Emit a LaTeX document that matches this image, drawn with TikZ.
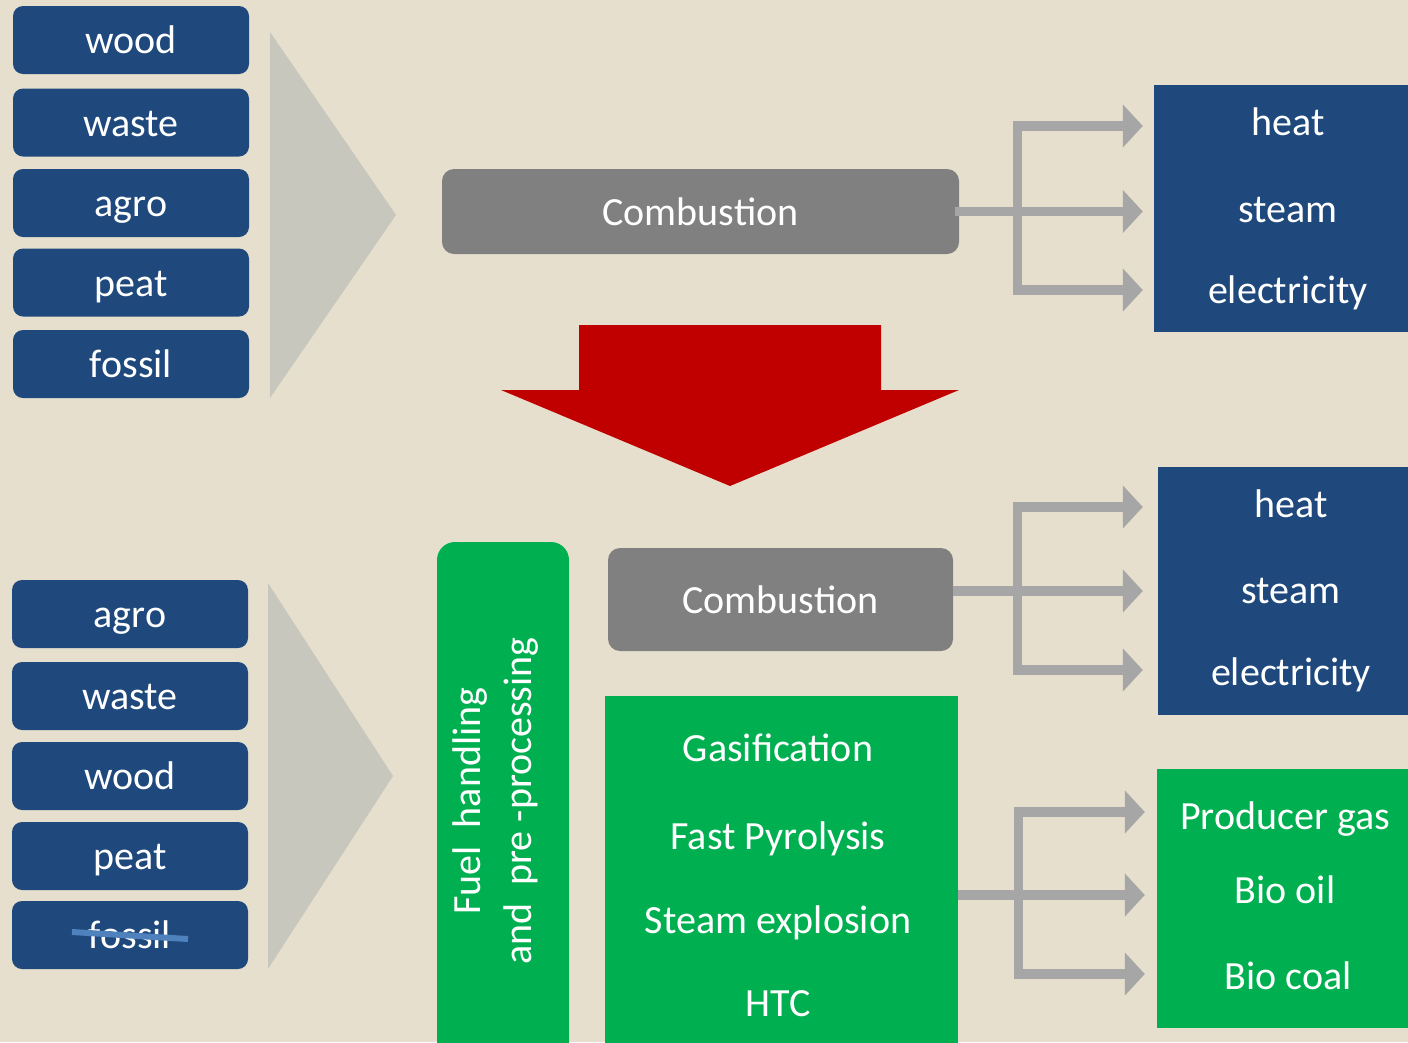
\documentclass[tikz,border=0pt]{standalone}
\usepackage{fontspec}
\setmainfont{Carlito}
\usetikzlibrary{arrows.meta}
\definecolor{bgc}{HTML}{E6DFCD}
\definecolor{navy}{HTML}{1F497D}
\definecolor{boxgray}{HTML}{808080}
\definecolor{arrgray}{HTML}{A6A6A6}
\definecolor{trigray}{HTML}{C8C7BD}
\definecolor{okgreen}{HTML}{00B050}
\definecolor{bigred}{HTML}{C00000}
\definecolor{strikeblue}{HTML}{4F81BD}
\tikzset{
  lbl/.style={text=white, font=\fontsize{40}{51}\selectfont, text height=35pt, text depth=8pt, inner sep=0pt},
  src/.style={lbl, fill=navy, rounded corners=10pt, minimum width=236pt, minimum height=68pt},
  proc/.style={lbl, fill=boxgray, rounded corners=12pt},
  outbox/.style={fill=#1, inner sep=0pt},
  garrow/.style={draw=arrgray, line width=9.5pt, line join=miter, -{Triangle[length=20pt,width=42pt]}},
  chevron/.style={fill=trigray}
}
\begin{document}
\begin{tikzpicture}[x=1pt,y=-1pt]
\path[use as bounding box, fill=bgc] (0,0) rectangle (1408,1042);
\clip (0,0) rectangle (1408,1042);

% ---- top sources
\node[src] (w1) at (131,40) {wood};
\node[src] (s1) at (131,122.5) {waste};
\node[src] (a1) at (131,203) {agro};
\node[src] (p1) at (131,282.5) {peat};
\node[src] (f1) at (131,364) {fossil};
\fill[chevron] (270,32) -- (396,215) -- (270,398) -- cycle;

% ---- top combustion
\node[proc, minimum width=517pt, minimum height=85pt] (c1) at (700.5,211.5) {Combustion};

% ---- top outputs
\node[outbox=navy, minimum width=254pt, minimum height=247pt] (o1) at (1281,208.5) {};
\node[lbl] (o1a) at (1288,122) {heat};
\node[lbl] (o1b) at (1288,209) {steam};
\node[lbl] (o1c) at (1288,290) {electricity};

\coordinate (b1t) at (1017.5,126);
\coordinate (b1b) at (1017.5,290);
\draw[garrow, shorten >=11pt] (b1b) -- (b1t) -- (b1t -| o1.west);
\draw[garrow, shorten >=11pt] (b1t) -- (b1b) -- (b1b -| o1.west);
\draw[garrow, shorten >=11pt] ([xshift=-4pt]c1.east) -- (c1.east -| o1.west);

% ---- big red arrow
\fill[bigred] (579,325) -- (881,325) -- (881,390) -- (959,390) -- (730,486) -- (501,390) -- (579,390) -- cycle;

% ---- bottom sources
\node[src] (a2) at (130,614) {agro};
\node[src] (s2) at (130,696) {waste};
\node[src] (w2) at (130,776) {wood};
\node[src] (p2) at (130,856) {peat};
\node[src] (f2) at (130,935) {fossil};
\draw[strikeblue, line width=6pt] ([xshift=-58pt,yshift=3pt]f2.center) -- ([xshift=58pt,yshift=-4pt]f2.center);
\fill[chevron] (268,583) -- (393,776) -- (268,969) -- cycle;

% ---- fuel handling
\node[fill=okgreen, rounded corners=18pt, minimum width=132pt, minimum height=518pt, inner sep=0pt] (fh) at (503,801) {};
\node[lbl, rotate=90, align=center, text height=, text depth=] (fht) at (495.5,801)
  {Fuel\hspace{0.45em}handling\\and\hspace{0.45em}pre -processing};

% ---- bottom combustion
\node[proc, minimum width=345pt, minimum height=103pt] (c2) at (780.5,599.5) {Combustion};

% ---- green processes
\node[outbox=okgreen, minimum width=353pt, minimum height=364pt] (g) at (781.5,878) {};
\node[lbl] (g1) at (778,748) {Gasification};
\node[lbl] (g2) at (778,836) {Fast Pyrolysis};
\node[lbl] (g3) at (778,920) {Steam explosion};
\node[lbl] (g4) at (778,1003) {HTC};

% ---- middle outputs
\node[outbox=navy, minimum width=250pt, minimum height=248pt] (o2) at (1283,591) {};
\node[lbl] (o2a) at (1291,504) {heat};
\node[lbl] (o2b) at (1291,590) {steam};
\node[lbl] (o2c) at (1291,672) {electricity};

\coordinate (b2t) at (1017.5,507);
\coordinate (b2b) at (1017.5,670);
\draw[garrow, shorten >=15pt] (b2b) -- (b2t) -- (b2t -| o2.west);
\draw[garrow, shorten >=15pt] (b2t) -- (b2b) -- (b2b -| o2.west);
\draw[garrow, shorten >=15pt] ([yshift=8.5pt]c2.east) -- ([yshift=8.5pt]c2.east -| o2.west);

% ---- bottom outputs
\node[outbox=okgreen, minimum width=251pt, minimum height=259pt] (o3) at (1282.5,898.5) {};
\node[lbl] (o3a) at (1285,816) {Producer gas};
\node[lbl] (o3b) at (1285,890) {Bio oil};
\node[lbl] (o3c) at (1288,976) {Bio coal};

\coordinate (b3t) at (1018.5,812);
\coordinate (b3b) at (1018.5,974);
\draw[garrow, shorten >=12pt] (b3b) -- (b3t) -- (b3t -| o3.west);
\draw[garrow, shorten >=12pt] (b3t) -- (b3b) -- (b3b -| o3.west);
\draw[garrow, shorten >=12pt] ([yshift=-17pt]g.east) -- ([yshift=-17pt]g.east -| o3.west);
\end{tikzpicture}
\end{document}
